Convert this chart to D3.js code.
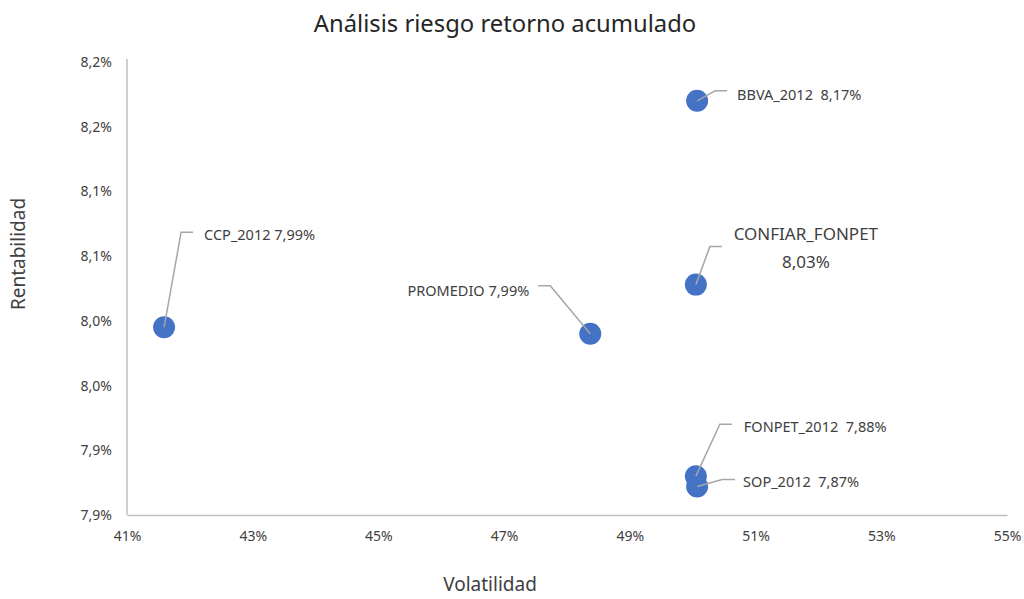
<!DOCTYPE html>
<html>
<head>
<meta charset="utf-8">
<script src="https://cdn.jsdelivr.net/npm/d3@7"></script>
<style>
  body { margin: 0; background: #fff; }
  svg { font-family: "Noto Sans", "Open Sans", sans-serif; }
</style>
</head>
<body>
<svg id="chart" width="1024" height="599"></svg>
<script>
// data (percent units)
const names = ['CCP_2012', 'PROMEDIO', 'BBVA_2012', 'CONFIAR_FONPET', 'FONPET_2012', 'SOP_2012'];
const volatility = [41.59, 48.37, 50.07, 50.05, 50.05, 50.07];
const returns = [7.995, 7.99, 8.17, 8.028, 7.88, 7.872];
const labelText = [
  ['CCP_2012 7,99%'],
  ['PROMEDIO 7,99%'],
  ['BBVA_2012  8,17%'],
  ['CONFIAR_FONPET', '8,03%'],
  ['FONPET_2012  7,88%'],
  ['SOP_2012  7,87%']
];

const xTicks = [41, 43, 45, 47, 49, 51, 53, 55];
const xTickLabels = ['41%', '43%', '45%', '47%', '49%', '51%', '53%', '55%'];
const yTicks = [7.85, 7.9, 7.95, 8.0, 8.05, 8.1, 8.15, 8.2];
const yTickLabels = ['7,9%', '7,9%', '8,0%', '8,0%', '8,1%', '8,1%', '8,2%', '8,2%'];

// leader line layout: elbow (ex,ey), end x (hx), text anchor (tx,ty), anchor
const labelLayout = [
  { ex: 17, ey: -95, hx: 29, tx: 40, ty: -91, anchor: 'start' },
  { ex: -40, ey: -48, hx: -52, tx: -61, ty: -42, anchor: 'end' },
  { ex: 18, ey: -10, hx: 30, tx: 40, ty: -5, anchor: 'start' },
  { ex: 14, ey: -38, hx: 26, tx: 110, ty: -50, anchor: 'middle' },
  { ex: 24, ey: -52, hx: 36, tx: 48, ty: -48, anchor: 'start' },
  { ex: 25, ey: -7, hx: 38, tx: 46, ty: -4, anchor: 'start' }
];

const svg = d3.select('#chart');
const plotLeft = 127, plotRight = 1007, plotTop = 62, plotBottom = 515;

const x = d3.scaleLinear().domain([41, 55]).range([plotLeft, plotRight]);
const y = d3.scaleLinear().domain([7.85, 8.2]).range([plotBottom, plotTop]);

// title
svg.append('text')
  .attr('x', 505).attr('y', 32)
  .attr('text-anchor', 'middle')
  .attr('font-size', 23.8)
  .attr('fill', '#262626')
  .text('Análisis riesgo retorno acumulado');

// axes
const xAxis = svg.append('g')
  .attr('transform', `translate(0,${plotBottom})`)
  .call(d3.axisBottom(x).tickValues(xTicks).tickSize(0).tickPadding(16)
    .tickFormat((d, i) => xTickLabels[i]));
const yAxis = svg.append('g')
  .attr('transform', `translate(${plotLeft},0)`)
  .call(d3.axisLeft(y).tickValues(yTicks).tickSize(0).tickPadding(15)
    .tickFormat((d, i) => yTickLabels[i]));

[xAxis, yAxis].forEach(g => {
  g.select('.domain').attr('stroke', '#bfbfbf').attr('stroke-width', 1.5);
  g.selectAll('text').attr('font-size', 14).attr('fill', '#404040')
    .attr('font-family', '"Noto Sans", sans-serif');
});
yAxis.select('.domain').attr('d', `M0,${plotBottom}V${plotTop - 3}`);

// axis titles
svg.append('text')
  .attr('x', 490).attr('y', 591)
  .attr('text-anchor', 'middle')
  .attr('font-size', 19).attr('fill', '#404040')
  .text('Volatilidad');
svg.append('text')
  .attr('transform', `translate(25,254) rotate(-90)`)
  .attr('text-anchor', 'middle')
  .attr('font-size', 19).attr('fill', '#404040')
  .text('Rentabilidad');

const pts = names.map((n, i) => ({ name: n, vx: volatility[i], vy: returns[i], lines: labelText[i], lay: labelLayout[i] }));

// points
svg.append('g')
  .selectAll('circle')
  .data(pts)
  .join('circle')
  .attr('cx', d => x(d.vx))
  .attr('cy', d => y(d.vy))
  .attr('r', 11)
  .attr('fill', '#4472c4');

// leader lines
svg.append('g')
  .selectAll('path')
  .data(pts)
  .join('path')
  .attr('fill', 'none')
  .attr('stroke', '#a6a6a6')
  .attr('stroke-width', 1.5)
  .attr('d', d => {
    const cx = x(d.vx), cy = y(d.vy);
    return `M${cx},${cy}L${cx + d.lay.ex},${cy + d.lay.ey}H${cx + d.lay.hx}`;
  });

// labels
const lbl = svg.append('g')
  .selectAll('text')
  .data(pts)
  .join('text')
  .attr('text-anchor', d => d.lay.anchor)
  .attr('font-size', d => d.lines.length > 1 ? 17 : 14.5)
  .attr('fill', '#404040')
  .attr('dominant-baseline', 'middle')
  .style('white-space', 'pre');

lbl.selectAll('tspan')
  .data(d => d.lines.map((t, j) => ({ t, j, d })))
  .join('tspan')
  .attr('x', o => x(o.d.vx) + o.d.lay.tx)
  .attr('y', o => y(o.d.vy) + o.d.lay.ty + o.j * 28)
  .text(o => o.t);
</script>
</body>
</html>
